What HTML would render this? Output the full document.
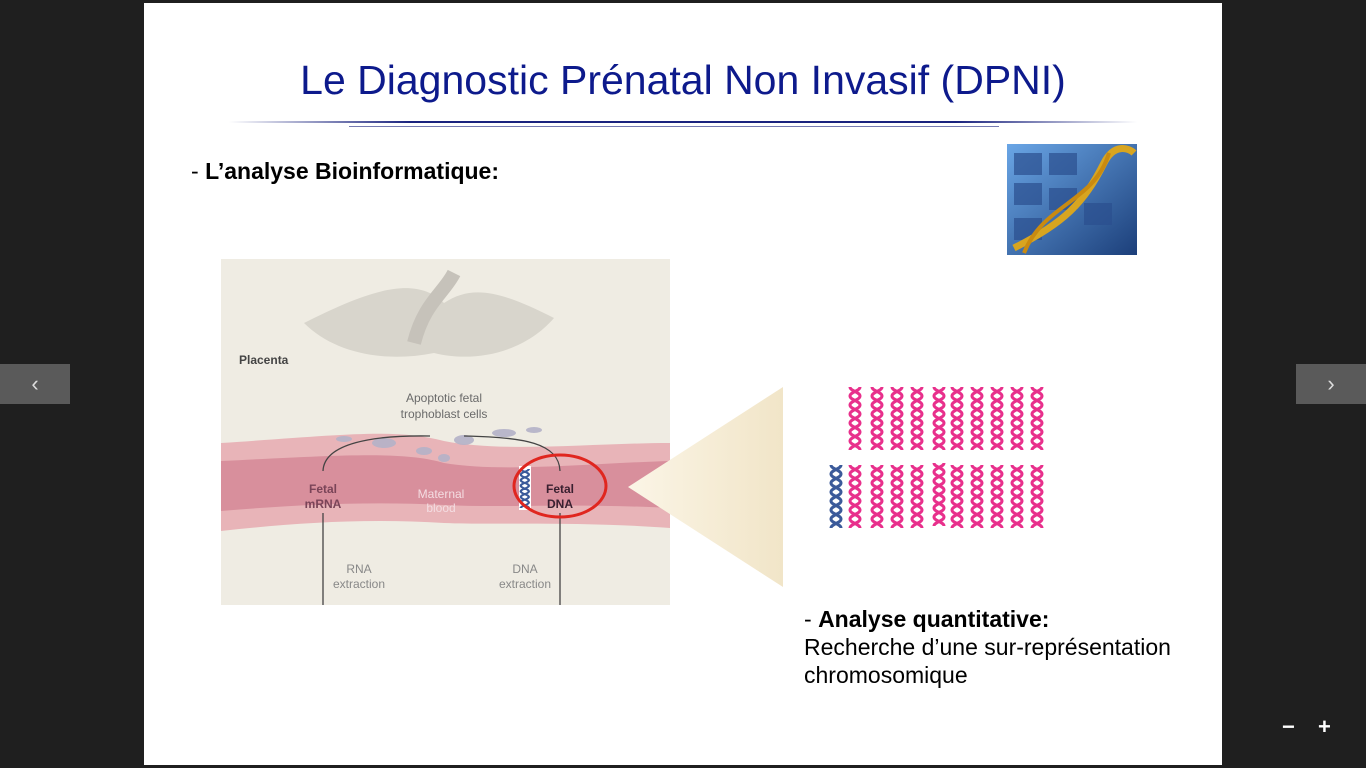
<!DOCTYPE html>
<html><head><meta charset="utf-8"><style>
html,body{margin:0;padding:0;width:1366px;height:768px;background:#1f1f1f;overflow:hidden;font-family:"Liberation Sans",sans-serif}
.slide{position:absolute;left:144px;top:3px;width:1078px;height:762px;background:#fff}
.t{position:absolute;left:0;width:1078px;top:54px;text-align:center;color:#0d1a8c;font-size:41px}
.nav{position:absolute;top:364px;width:70px;height:40px;background:#5a5a5a;color:#ddd;font-size:22px;text-align:center;line-height:40px}
</style></head><body>
<div class="slide">
<div class="t">Le Diagnostic Prénatal Non Invasif (DPNI)</div>
<svg style="position:absolute;left:0;top:0" width="1078" height="762">
<defs>
<linearGradient id="hl" x1="0" x2="1"><stop offset="0" stop-color="#fff"/><stop offset=".2" stop-color="#1a237e"/><stop offset=".8" stop-color="#1a237e"/><stop offset="1" stop-color="#fff"/></linearGradient>
<linearGradient id="tri" x1="0" x2="1"><stop offset="0" stop-color="#fbf5e6"/><stop offset="1" stop-color="#f1e5c8"/></linearGradient>
<linearGradient id="kb" x1="0" y1="0" x2="1" y2="1"><stop offset="0" stop-color="#6aa6e6"/><stop offset="1" stop-color="#1c3f7a"/></linearGradient>
<g id="h"><path d="M1,0 C1,4 11,5 11,9 C11,13 1,14 1,18 C1,22 11,23 11,27 C11,31 1,32 1,36 C1,40 11,41 11,45 C11,49 1,50 1,54 C1,58 11,59 11,63 M11,0 C11,4 1,5 1,9 C1,13 11,14 11,18 C11,22 1,23 1,27 C1,31 11,32 11,36 C11,40 1,41 1,45 C1,49 11,50 11,54 C11,58 1,59 1,63" fill="none" stroke-width="3"/></g>
</defs>
<rect x="85" y="118" width="908" height="2" fill="url(#hl)"/>
<rect x="205" y="123" width="650" height="1" fill="#1a237e" opacity=".6"/>
<rect x="863" y="141" width="130" height="111" fill="url(#kb)"/>
<g fill="#2b4f8f" opacity=".7"><rect x="870" y="150" width="28" height="22"/><rect x="905" y="150" width="28" height="22"/><rect x="870" y="180" width="28" height="22"/><rect x="905" y="185" width="28" height="22"/><rect x="940" y="200" width="28" height="22"/><rect x="870" y="215" width="28" height="22"/></g>
<path d="M870,245 C920,220 940,200 960,160 C970,140 985,145 990,150" stroke="#d8a520" stroke-width="7" fill="none"/>
<path d="M880,250 C900,200 950,200 965,150" stroke="#c98a10" stroke-width="4" fill="none"/>
<rect x="77" y="256" width="449" height="346" fill="#efece3"/>
<path d="M160,320 C220,290 270,270 300,300 C330,280 360,290 410,315 C380,350 330,360 290,350 C240,360 190,350 160,320Z" fill="#d8d5cc"/>
<path d="M270,340 C280,300 300,290 310,270" stroke="#c6c2ba" stroke-width="14" fill="none"/>
<path d="M77,440 C200,432 250,425 300,438 C360,450 450,440 526,440 L526,525 C430,518 350,522 300,520 C220,515 150,520 77,528Z" fill="#e8b4b8"/>
<path d="M77,458 C200,452 260,448 300,460 C360,470 450,460 526,458 L526,505 C430,500 360,505 300,502 C220,498 150,502 77,508Z" fill="#d88f9c"/>
<g fill="#b4b2c8" opacity=".9"><ellipse cx="240" cy="440" rx="12" ry="5"/><ellipse cx="280" cy="448" rx="8" ry="4"/><ellipse cx="320" cy="437" rx="10" ry="5"/><ellipse cx="360" cy="430" rx="12" ry="4"/><ellipse cx="200" cy="436" rx="8" ry="3"/><ellipse cx="300" cy="455" rx="6" ry="4"/><ellipse cx="390" cy="427" rx="8" ry="3"/></g>
<g font-size="12" fill="#555" font-family="Liberation Sans">
<text x="95" y="361" font-weight="bold" fill="#444">Placenta</text>
<text x="300" y="399" text-anchor="middle" fill="#6a6a6a">Apoptotic fetal</text>
<text x="300" y="415" text-anchor="middle" fill="#6a6a6a">trophoblast cells</text>
<text x="179" y="490" text-anchor="middle" font-weight="bold" fill="#7a4458">Fetal</text>
<text x="179" y="505" text-anchor="middle" font-weight="bold" fill="#7a4458">mRNA</text>
<text x="297" y="495" text-anchor="middle" fill="#f4dde2">Maternal</text>
<text x="297" y="509" text-anchor="middle" fill="#f4dde2">blood</text>
<text x="416" y="490" text-anchor="middle" font-weight="bold" fill="#3a2030">Fetal</text>
<text x="416" y="505" text-anchor="middle" font-weight="bold" fill="#3a2030">DNA</text>
<text x="215" y="570" text-anchor="middle" fill="#888">RNA</text>
<text x="215" y="585" text-anchor="middle" fill="#888">extraction</text>
<text x="381" y="570" text-anchor="middle" fill="#888">DNA</text>
<text x="381" y="585" text-anchor="middle" fill="#888">extraction</text>
</g>
<path d="M286,433 C230,432 180,440 179,468" stroke="#444" stroke-width="1.3" fill="none"/>
<path d="M320,433 C380,434 415,440 416,468" stroke="#444" stroke-width="1.3" fill="none"/>
<path d="M179,510 V602 M416,510 V602" stroke="#444" stroke-width="1.3"/>
<rect x="375" y="463" width="12" height="44" fill="#fff"/>
<g transform="translate(376,466) scale(.8,.62)"><use href="#h" stroke="#3b5a9a"/></g>
<ellipse cx="416" cy="483" rx="46" ry="31" fill="none" stroke="#e0261f" stroke-width="3"/>
<polygon points="484,484 639,384 639,584" fill="url(#tri)"/>
<g stroke="#e8308c">
<use href="#h" x="705" y="384"/><use href="#h" x="727" y="384"/><use href="#h" x="747" y="384"/><use href="#h" x="767" y="384"/><use href="#h" x="789" y="384"/><use href="#h" x="807" y="384"/><use href="#h" x="827" y="384"/><use href="#h" x="847" y="384"/><use href="#h" x="867" y="384"/><use href="#h" x="887" y="384"/>
<use href="#h" x="705" y="462"/><use href="#h" x="727" y="462"/><use href="#h" x="747" y="462"/><use href="#h" x="767" y="462"/><use href="#h" x="789" y="460"/><use href="#h" x="807" y="462"/><use href="#h" x="827" y="462"/><use href="#h" x="847" y="462"/><use href="#h" x="867" y="462"/><use href="#h" x="887" y="462"/>
</g>
<use href="#h" x="686" y="462" stroke="#3b5a9a"/>
</svg>
<div style="position:absolute;left:47px;top:155px;font-size:23px;color:#000">- <b>L’analyse Bioinformatique:</b></div>
<div style="position:absolute;left:660px;top:602px;font-size:23px;color:#000;line-height:28px">- <b>Analyse quantitative:</b><br>Recherche d’une sur-représentation<br>chromosomique</div>
</div>
<div class="nav" style="left:0">&#8249;</div>
<div class="nav" style="left:1296px">&#8250;</div>
<div style="position:absolute;left:1282px;top:714px;color:#fff;font-size:22px;font-weight:bold">&#8722;</div>
<div style="position:absolute;left:1318px;top:714px;color:#fff;font-size:22px;font-weight:bold">+</div>
</body></html>
